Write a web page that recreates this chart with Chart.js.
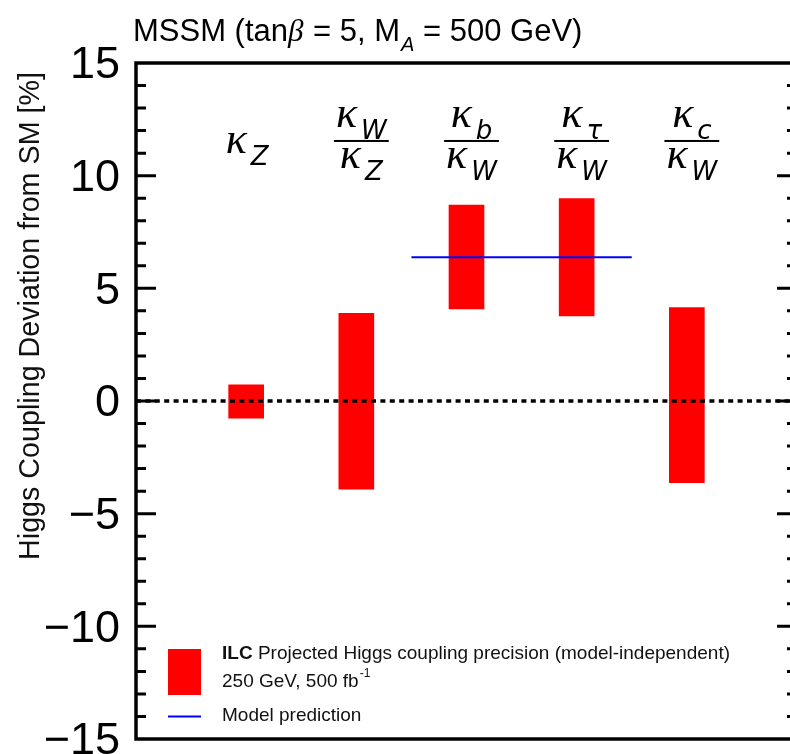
<!DOCTYPE html>
<html>
<head>
<meta charset="utf-8">
<script src="https://cdn.jsdelivr.net/npm/chart.js@4.4.0/dist/chart.umd.min.js"></script>
<style>
  html, body { margin: 0; padding: 0; background: #fff; overflow: hidden; }
  #wrap { width: 790px; height: 754px; overflow: hidden; }
</style>
</head>
<body>
<div id="wrap"><canvas id="myChart" width="812" height="754"></canvas></div>
<script>
// coupling ratios: kappa_num / kappa_den (empty den = single kappa)
const numSub = ['Z', 'W', 'b', '\u03c4', 'c'];
const denSub = ['', 'Z', 'W', 'W', 'W'];
const catX = [1, 2, 3, 4, 5];
// projected precision band [%]
const barHigh = [0.72, 3.89, 8.69, 8.98, 4.15];
const barLow = [-0.76, -3.91, 4.09, 3.78, -3.62];
// MSSM model prediction line
const modelX = [2.5, 4.5];
const modelY = [6.38, 6.38];
const zeroX = [0, 6];
const yTicks = [-15, -10, -5, 0, 5, 10, 15];

const SANS = '"Liberation Sans", Arial, sans-serif';
const KFONT = 'italic 44px "Liberation Serif"';
const SFONT = 'italic 26px "DejaVu Sans"';

function fmt(v) {
  return v < 0 ? '\u2212' + Math.abs(v) : String(v);
}

// kappa with subscript, centred on cx, baseline at by
function kappa(ctx, cx, by, sub) {
  ctx.font = KFONT;
  const kw = ctx.measureText('\u03ba').width;
  ctx.font = SFONT;
  const sw = ctx.measureText(sub).width;
  const w = kw + 4 + sw;
  const x0 = cx - w / 2;
  ctx.textAlign = 'left';
  ctx.textBaseline = 'alphabetic';
  ctx.font = KFONT;
  ctx.fillText('\u03ba', x0, by);
  ctx.font = SFONT;
  ctx.fillText(sub, x0 + kw + 4, by + 12);
  return w;
}

const framePlugin = {
  id: 'frame',
  afterDraw(chart) {
    const { ctx, chartArea: a, scales: { x, y } } = chart;
    ctx.save();
    ctx.strokeStyle = '#000';
    ctx.fillStyle = '#000';

    // ticks, inward on both sides
    ctx.lineWidth = 3;
    for (let v = -14; v <= 14; v++) {
      const py = y.getPixelForValue(v);
      const len = v % 5 === 0 ? 20 : 10;
      ctx.beginPath();
      ctx.moveTo(a.left, py); ctx.lineTo(a.left + len, py);
      ctx.moveTo(a.right, py); ctx.lineTo(a.right - len, py);
      ctx.stroke();
    }
    ctx.lineWidth = 3.5;
    ctx.strokeRect(a.left, a.top, a.right - a.left, a.bottom - a.top);

    // coupling labels
    for (let i = 0; i < catX.length; i++) {
      const cx = x.getPixelForValue(catX[i]);
      if (!denSub[i]) {
        kappa(ctx, cx + 1, y.getPixelForValue(11.0), numSub[i]);
      } else {
        const c = cx + 5;
        const wn = kappa(ctx, c, y.getPixelForValue(12.15), numSub[i]);
        const wd = kappa(ctx, c, y.getPixelForValue(10.33), denSub[i]);
        const bw = Math.max(wn, wd) + 4;
        ctx.fillRect(c - bw / 2, y.getPixelForValue(11.54) - 1, bw, 2);
      }
    }

    // title
    ctx.fillStyle = '#000';
    ctx.textAlign = 'left';
    ctx.textBaseline = 'alphabetic';
    let tx = 133;
    const ty = 41;
    const parts = [
      ['MSSM (tan', '31px ' + SANS, 0, 0],
      ['\u03b2', 'italic 31px "Liberation Serif"', 0, 0],
      [' = 5, M', '31px ' + SANS, 0, 1],
      ['A', 'italic 20px ' + SANS, 10, 1],
      [' = 500 GeV)', '31px ' + SANS, 0, 0]
    ];
    parts.forEach(p => {
      ctx.font = p[1];
      ctx.fillText(p[0], tx + p[3], ty + p[2]);
      tx += ctx.measureText(p[0]).width + p[3];
    });

    // y axis title
    ctx.save();
    ctx.translate(31, 316);
    ctx.rotate(-Math.PI / 2);
    ctx.textAlign = 'center';
    ctx.textBaseline = 'middle';
    ctx.font = '28.7px ' + SANS;
    ctx.fillStyle = '#111';
    ctx.fillText('Higgs Coupling Deviation from SM [%]', 0, 0);
    ctx.restore();

    // legend
    const lx = a.left + 32;
    ctx.fillStyle = '#ff0000';
    ctx.fillRect(lx, 649, 33, 46);
    ctx.strokeStyle = '#0000ff';
    ctx.lineWidth = 2;
    ctx.beginPath(); ctx.moveTo(lx, 716.5); ctx.lineTo(lx + 33, 716.5); ctx.stroke();

    ctx.fillStyle = '#111';
    ctx.textBaseline = 'middle';
    const tx0 = a.left + 86;
    ctx.font = 'bold 19px ' + SANS;
    ctx.fillText('ILC', tx0, 654);
    const bw = ctx.measureText('ILC').width;
    ctx.font = '19px ' + SANS;
    ctx.fillText(' Projected Higgs coupling precision (model-independent)', tx0 + bw, 654);
    const s2 = '250 GeV, 500 fb';
    ctx.fillText(s2, tx0, 682);
    const w2 = ctx.measureText(s2).width;
    ctx.font = '12px ' + SANS;
    ctx.fillText('-1', tx0 + w2 + 1, 674);
    ctx.font = '19px ' + SANS;
    ctx.fillText('Model prediction', tx0, 716);
    ctx.restore();
  }
};

const ctx = document.getElementById('myChart');

new Chart(ctx, {
  type: 'bar',
  data: {
    datasets: [
      {
        type: 'bar',
        data: catX.map((x, i) => ({ x: x, y: [barLow[i], barHigh[i]] })),
        backgroundColor: '#ff0000',
        borderWidth: 0,
        barThickness: 35,
        order: 2
      },
      {
        type: 'line',
        data: modelX.map((x, i) => ({ x: x, y: modelY[i] })),
        borderColor: '#0000ff',
        borderWidth: 2,
        pointRadius: 0,
        order: 1
      },
      {
        type: 'line',
        data: zeroX.map(x => ({ x: x, y: 0 })),
        borderColor: '#000',
        borderWidth: 3.5,
        borderDash: [5, 4.4],
        pointRadius: 0,
        order: 0
      }
    ]
  },
  options: {
    responsive: false,
    animation: false,
    devicePixelRatio: 1,
    layout: { padding: { top: 63, bottom: 15, right: 15, left: 0 } },
    plugins: { legend: { display: false }, tooltip: { enabled: false } },
    scales: {
      x: { type: 'linear', min: 0, max: 6, offset: false, display: false },
      y: {
        min: -15,
        max: 15,
        afterFit: s => { s.width = 136; s.paddingTop = 0; s.paddingBottom = 0; },
        afterBuildTicks: s => { s.ticks = yTicks.map(v => ({ value: v })); },
        grid: { display: false },
        border: { display: false },
        ticks: {
          font: { family: 'Liberation Sans', size: 45 },
          color: '#000',
          padding: 8,
          labelOffset: 3,
          callback: v => fmt(v)
        }
      }
    }
  },
  plugins: [framePlugin]
});
</script>
</body>
</html>
